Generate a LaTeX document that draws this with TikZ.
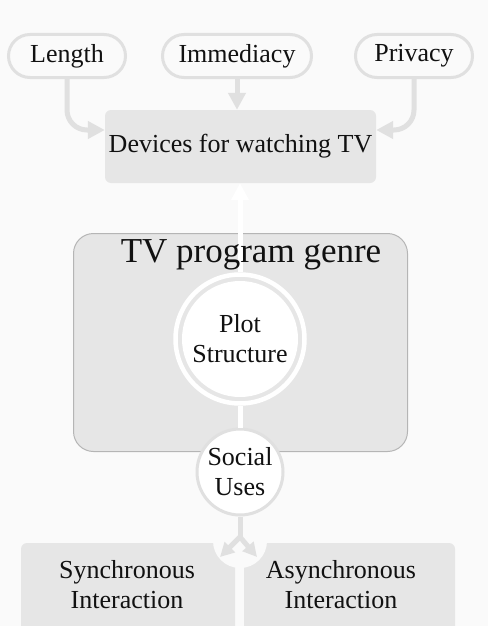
\documentclass[tikz,border=0pt]{standalone}
\usepackage{fontspec}
\setmainfont{Liberation Serif}
\usetikzlibrary{arrows.meta}
\definecolor{bg}{HTML}{FAFAFA}
\definecolor{boxg}{HTML}{E6E6E6}
\definecolor{lineg}{HTML}{E0E0E0}
\definecolor{edgeg}{HTML}{B5B5B5}
\definecolor{ink}{HTML}{111111}
\begin{document}
\begin{tikzpicture}[x=1pt,y=-1pt,
  txt/.style={font=\fontsize{26}{30}\selectfont, text=ink, align=center, inner sep=0pt},
  pill/.style={txt, draw=lineg, line width=3pt, fill=bg, rounded corners=21.5pt, minimum height=43pt},
  graybox/.style={txt, fill=boxg, rounded corners=6pt},
  garrow/.style={draw=lineg, line width=5pt, rounded corners=20pt, -{Triangle[length=17pt,width=17pt]}},
  wline/.style={draw=white, line width=5pt},
  warrow/.style={wline, -{Triangle[length=17pt,width=17pt]}},
  gline/.style={draw=lineg, line width=5pt},
  sarrow/.style={gline, -{Triangle[length=14pt,width=14pt]}}
]
\useasboundingbox (0,0) rectangle (488,626);
\fill[bg] (0,0) rectangle (488,626);

% top pills
\node[pill, minimum width=117pt] (len) at (67,56) {Length};
\node[pill, minimum width=149pt] (imm) at (237,56) {Immediacy};
\node[pill, minimum width=117pt] (priv) at (414,56) {Privacy};

% devices
\node[graybox, minimum width=271pt, minimum height=73pt] (dev) at (240.5,146.5) {Devices for watching TV};

% genre container
\node[draw=edgeg, line width=1pt, fill=boxg, rounded corners=20pt,
      minimum width=334pt, minimum height=218pt, inner sep=0pt] (genre) at (240.5,342.5) {};

% bottom boxes
\node[fill=boxg, rounded corners=6pt, minimum width=214pt, minimum height=97pt, inner sep=0pt] (sync) at (128,591.5) {};
\node[fill=boxg, rounded corners=6pt, minimum width=211pt, minimum height=97pt, inner sep=0pt] (async) at (349.5,591.5) {};
\node[circle, fill=bg, minimum size=54pt, inner sep=0pt] (gapc) at (240,541) {};

% plot structure
\node[circle, draw=white, line width=4.5pt, minimum size=129pt, inner sep=0pt] (plotring) at (240,339) {};
\node[txt, circle, fill=white, minimum size=116pt] (plot) at (240,339) {Plot\\Structure};

% social uses
\node[txt, circle, draw=lineg, line width=3pt, fill=white, minimum size=86pt] (social) at (240,472) {Social\\Uses};

% connectors
\draw[garrow] (len.south) |- ([yshift=16.5pt]dev.west);
\draw[garrow] (priv.south) |- ([yshift=16.5pt]dev.east);
\draw[garrow, rounded corners=0pt] (imm.south) -- (imm.south |- dev.north);
\draw[warrow] (plotring.north) -- (plotring.north |- dev.south);
\draw[wline] (plotring.south) -- (social.north);
\coordinate (split) at (240,537);
\coordinate (synctip) at (220,557);
\coordinate (asynctip) at (257,557);
\draw[gline] (social.south) -- (split);
\draw[sarrow] (split) -- (synctip);
\draw[sarrow] (split) -- (asynctip);

% texts
\node[txt, font=\fontsize{35}{40}\selectfont] (title) at (251,255) {TV program genre};
\node[txt] (synct) at (127,585) {Synchronous\\Interaction};
\node[txt] (asynct) at (341,585) {Asynchronous\\Interaction};
\end{tikzpicture}
\end{document}
